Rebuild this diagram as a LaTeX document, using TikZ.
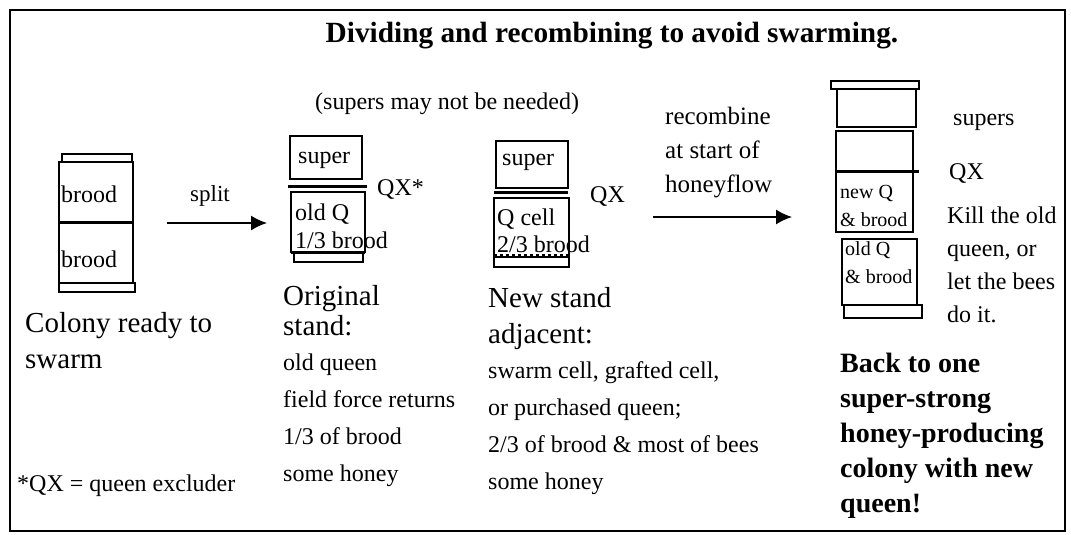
\documentclass[tikz,border=0pt]{standalone}
\usepackage{fontspec}
\setmainfont{Liberation Serif}
\usetikzlibrary{arrows.meta, positioning}
\tikzstyle{big} = [inner sep=0pt, anchor=north west, align=left, font=\fontsize{29}{36}\selectfont]
\tikzstyle{small} = [inner sep=0pt, anchor=north west, align=left, font=\fontsize{24}{37}\selectfont]
\tikzstyle{tiny} = [inner sep=0pt, anchor=north west, align=left, font=\fontsize{20}{28}\selectfont]
\tikzstyle{strong} = [inner sep=0pt, anchor=north west, align=left, font=\fontsize{28}{35}\selectfont\bfseries]
\tikzstyle{word} = [inner sep=0pt, anchor=base west, font=\fontsize{24}{28}\selectfont]
\tikzstyle{box} = [line width=1.5pt]
\tikzstyle{qx} = [line width=3pt]
\tikzstyle{arrow} = [line width=1.5pt,-{Latex[length=16pt,width=15pt]}]

\begin{document}
\begin{tikzpicture}[x=1pt,y=-1pt]
\fill [white] (0,0) rectangle (1071,535);
\useasboundingbox (0,0) rectangle (1071,535);
\draw [line width=2.5pt] (10,10) rectangle (1065,531);

% Hives
\draw [box] (62,154) rectangle (132,162);
\draw [box] (59,162) rectangle (133,283);
\draw [qx] (59,222) -- (133,222);
\draw [box] (59,283) rectangle (135,292);

\draw [box] (290,136) rectangle (362,179);
\draw [qx] (288,186) -- (367,186);
\draw [box] (291,192) rectangle (365,252);
\draw [qx] (291,252) -- (365,252);
\draw [box] (294,252) rectangle (363,262);

\draw [box] (496,141) rectangle (568,188);
\draw [qx] (494,192) -- (568,192);
\draw [box] (494,198) rectangle (569,257);
\draw [qx, dashed] (494,255) -- (569,255);
\draw [box] (494,257) rectangle (569,267);

\draw [box] (831,81) rectangle (919,89);
\draw [box] (837,89) rectangle (916,127);
\draw [box] (836,131) rectangle (913,171);
\draw [qx] (836,171) -- (919,171);
\draw [box] (836,171) rectangle (913,232);
\draw [box] (842,239) rectangle (917,305);
\draw [box] (844,305) rectangle (922,318);

% Nodes
\node (title) [inner sep=0pt, anchor=base, font=\fontsize{29.3}{34}\selectfont\bfseries] at (612,43) {Dividing and recombining to avoid swarming.};
\node (maybe) [word] at (315,109) {(supers may not be needed)};

\node (broodtop) [word] at (61,202) {brood};
\node (broodbot) [word] at (61,267) {brood};
\node (colony) [big] at (25,312) {Colony ready to\\swarm};
\node (footnote) [word] at (17,491) {*QX = queen excluder};

\node (super2) [word] at (298,163) {super};
\node (qx2) [word] at (377,195) {QX*};
\node (oldq) [big, font=\fontsize{24}{28}\selectfont] at (295,203.6) {old Q\\1/3 brood};
\node (orig) [big, font=\fontsize{29}{30}\selectfont] at (283,285) {Original\\stand:};
\node (origlist) [small] at (283,353.6) {old queen\\field force returns\\1/3 of brood\\some honey};

\node (super3) [word] at (502,165) {super};
\node (qx3) [word] at (590,202) {QX};
\node (qcell) [big, font=\fontsize{24}{27}\selectfont] at (497,208.6) {Q cell\\2/3 brood};
\node (newstand) [big] at (488,287) {New stand\\adjacent:};
\node (newlist) [small] at (488,361.6) {swarm cell, grafted cell,\\or purchased queen;\\2/3 of brood \& most of bees\\some honey};

\node (recomb) [small, font=\fontsize{25}{34}\selectfont] at (665,107) {recombine\\at start of\\honeyflow};

\node (newq) [tiny] at (840,185) {new Q\\\& brood};
\node (oldq4) [tiny] at (845,241) {old Q\\\& brood};
\node (supers) [word] at (953,125) {supers};
\node (qx4) [word] at (949,179) {QX};
\node (kill) [small, font=\fontsize{24}{33}\selectfont] at (947,206.6) {Kill the old\\queen, or\\let the bees\\do it.};
\node (back) [strong] at (840,353) {Back to one\\super-strong\\honey-producing\\colony with new\\queen!};

% Arrows
\node (split) [word, font=\fontsize{23}{28}\selectfont] at (190,201) {split};
\coordinate (splitstart) at (167,223);
\coordinate (splitend) at (267,223);
\draw [arrow] (splitstart) -- (splitend);
\coordinate (joinstart) at (653,217);
\coordinate (joinend) at (792,217);
\draw [arrow] (joinstart) -- (joinend);

\end{tikzpicture}
\end{document}
